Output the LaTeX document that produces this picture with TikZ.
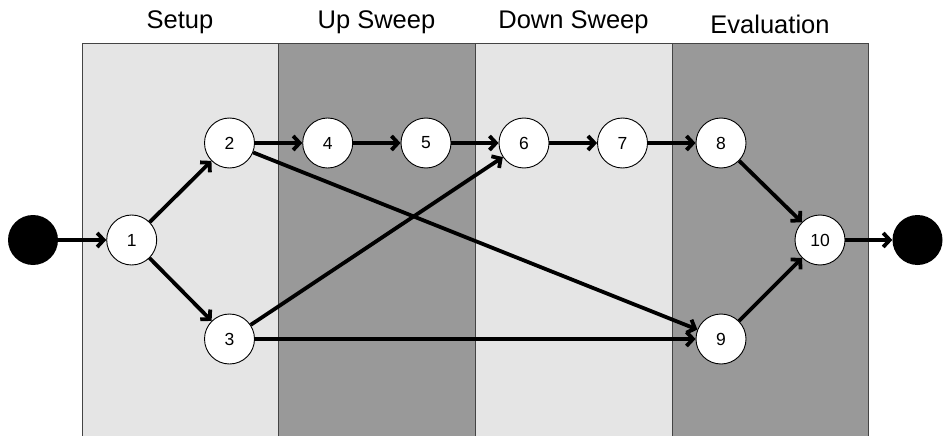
\documentclass[tikz,border=0pt]{standalone}
\usepackage{fontspec}
\setmainfont{Liberation Sans}
\usetikzlibrary{arrows.meta}
\definecolor{bandlight}{HTML}{E5E5E5}
\definecolor{banddark}{HTML}{999999}
\definecolor{bandline}{HTML}{444444}
\begin{document}
\begin{tikzpicture}[x=1pt,y=-1pt,
  band/.style={draw=bandline,line width=1pt},
  stage/.style={circle,draw=black,fill=white,line width=0.9pt,minimum size=50pt,inner sep=0pt,font=\fontsize{17.5}{19}\selectfont},
  term/.style={circle,fill=black,minimum size=50pt,inner sep=0pt},
  flow/.style={line width=3.8pt,-{Straight Barb[length=6.5pt,width=14pt]}},
  title/.style={anchor=base,font=\fontsize{25.5}{28}\selectfont}]
\useasboundingbox (0,0) rectangle (943,436);
\begin{scope}
\clip (0,0) rectangle (943,436);
\draw[band,fill=bandlight] (82,44) rectangle (278,445);
\draw[band,fill=banddark] (278,44) rectangle (475,445);
\draw[band,fill=bandlight] (475,44) rectangle (672,445);
\draw[band,fill=banddark] (672,44) rectangle (868,445);
\end{scope}
\node[title] (tsetup) at (180,28.3) {Setup};
\node[title] (tup) at (376.5,28.3) {Up Sweep};
\node[title] (tdown) at (573.5,28.3) {Down Sweep};
\node[title] (teval) at (770,33.3) {Evaluation};
\node[term] (start) at (33,240) {};
\node[term] (finish) at (917.5,240) {};
\node[stage] (n1) at (131.7,240) {1};
\node[stage] (n2) at (229.5,143) {2};
\node[stage] (n3) at (229.5,339) {3};
\node[stage] (n4) at (327.7,143) {4};
\node[stage] (n5) at (426,143) {5};
\node[stage] (n6) at (524,143) {6};
\node[stage] (n7) at (622.5,143) {7};
\node[stage] (n8) at (721,143) {8};
\node[stage] (n9) at (721,339) {9};
\node[stage] (n10) at (820,240) {10};
\draw[flow] (start) -- (n1);
\draw[flow] (n1) -- (n2);
\draw[flow] (n1) -- (n3);
\draw[flow] (n2) -- (n4);
\draw[flow] (n4) -- (n5);
\draw[flow] (n5) -- (n6);
\draw[flow] (n6) -- (n7);
\draw[flow] (n7) -- (n8);
\draw[flow] (n2) -- (n9);
\draw[flow] (n3) -- (n6);
\draw[flow] (n3) -- (n9);
\draw[flow] (n8) -- (n10);
\draw[flow] (n9) -- (n10);
\draw[flow] (n10) -- (finish);
\end{tikzpicture}
\end{document}
